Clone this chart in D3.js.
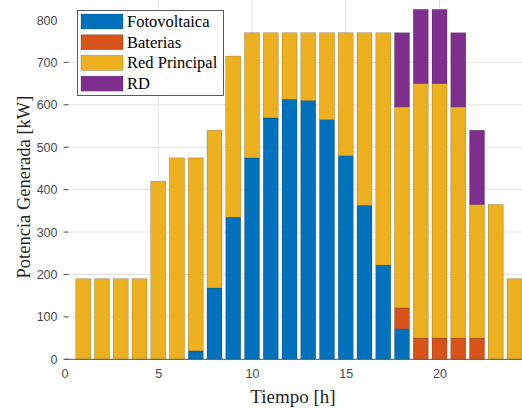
<!DOCTYPE html>
<html>
<head>
<meta charset="utf-8">
<script src="https://cdn.jsdelivr.net/npm/d3@7"></script>
<style>
html,body{margin:0;padding:0;background:#fff;overflow:hidden;}
svg{display:block;}
</style>
</head>
<body>
<svg id="chart" width="522" height="409"></svg>
<script>
const hours = [1,2,3,4,5,6,7,8,9,10,11,12,13,14,15,16,17,18,19,20,21,22,23,24];
const fotovoltaica = [0,0,0,0,0,0,20,168,335,475,569,613,610,565,480,363,222,72,0,0,0,0,0,0];
const baterias     = [0,0,0,0,0,0,0,0,0,0,0,0,0,0,0,0,0,49,50,50,50,50,0,0];
const redPrincipal = [190,190,190,190,420,475,455,372,380,295,201,157,160,205,290,407,548,474,600,600,545,315,365,190];
const rd           = [0,0,0,0,0,0,0,0,0,0,0,0,0,0,0,0,0,175,175,175,175,175,0,0];
const seriesNames = ["Fotovoltaica","Baterias","Red Principal","RD"];
const seriesColors = ["#0072BD","#D95319","#EDB120","#7E2F8E"];
const yTicks = [0,100,200,300,400,500,600,700,800];
const xTicks = [0,5,10,15,20];

const svg = d3.select("#chart");
const x = d3.scaleLinear().domain([0,24.5]).range([64.5,523.9]);
const y = d3.scaleLinear().domain([0,800]).range([359.3,20]);

// grid
const grid = svg.append("g");
grid.selectAll("line.h").data(yTicks.filter(d=>d>0 && d<800)).enter().append("line")
  .attr("x1",x(0)).attr("x2",522).attr("y1",d=>y(d)).attr("y2",d=>y(d))
  .attr("stroke","#e3e3e3").attr("stroke-width",1);
grid.selectAll("line.v").data(xTicks.filter(d=>d>0)).enter().append("line")
  .attr("x1",d=>x(d)).attr("x2",d=>x(d)).attr("y1",0).attr("y2",y(0))
  .attr("stroke","#e3e3e3").attr("stroke-width",1);

// stacked data
const table = hours.map((h,i)=>({hour:h, "Fotovoltaica":fotovoltaica[i], "Baterias":baterias[i], "Red Principal":redPrincipal[i], "RD":rd[i]}));
const stack = d3.stack().keys(seriesNames)(table);
const bw = (x(1)-x(0))*0.8;

const bars = svg.append("g");
stack.forEach((layer,k)=>{
  bars.selectAll(null).data(layer.filter(d=>d[1]-d[0]>0)).enter().append("rect")
    .attr("x",d=>x(d.data.hour)-bw/2)
    .attr("width",bw)
    .attr("y",d=>y(d[1]))
    .attr("height",d=>y(d[0])-y(d[1]))
    .attr("fill",seriesColors[k])
    .attr("stroke","rgba(0,0,0,0.3)")
    .attr("stroke-width",0.6);
});

// axes
const xAxis = d3.axisBottom(x).tickValues(xTicks).tickSize(0).tickPadding(10);
const gx = svg.append("g").attr("transform",`translate(0,${y(0)})`).call(xAxis);
gx.select(".domain").attr("d",`M${x(0)},0H522`).attr("stroke","#555").attr("stroke-width",1);
gx.selectAll("text").attr("font-family","Liberation Sans, Arial, sans-serif").attr("font-size",12.5).attr("fill","#4a4a4a");

const yAxis = d3.axisLeft(y).tickValues(yTicks).tickSize(0).tickPadding(7);
const gy = svg.append("g").attr("transform",`translate(${x(0)},0)`).call(yAxis);
gy.select(".domain").remove();
gy.selectAll("text").attr("font-family","Liberation Sans, Arial, sans-serif").attr("font-size",12.5).attr("fill","#4a4a4a");
// inner tick marks
svg.append("g").selectAll("line").data(yTicks.filter(d=>d<800)).enter().append("line")
  .attr("x1",x(0)-1).attr("x2",x(0)+4).attr("y1",d=>y(d)).attr("y2",d=>y(d))
  .attr("stroke","#555").attr("stroke-width",1);

// axis labels
svg.append("text").attr("x",293).attr("y",403).attr("text-anchor","middle")
  .attr("font-family","Liberation Serif, Times New Roman, serif").attr("font-size",19).attr("fill","#262626")
  .text("Tiempo [h]");
svg.append("text").attr("transform","translate(30,187) rotate(-90)").attr("text-anchor","middle")
  .attr("font-family","Liberation Serif, Times New Roman, serif").attr("font-size",18.5).attr("fill","#262626")
  .text("Potencia Generada [kW]");

// legend
const lg = svg.append("g");
lg.append("rect").attr("x",77.5).attr("y",10.5).attr("width",146).attr("height",85)
  .attr("fill","#fff").attr("stroke","#333").attr("stroke-width",0.8);
seriesNames.forEach((n,i)=>{
  const cy = 21.5 + i*20.7;
  lg.append("rect").attr("x",81).attr("y",cy-7.5).attr("width",42).attr("height",15)
    .attr("fill",seriesColors[i]).attr("stroke","rgba(0,0,0,0.3)").attr("stroke-width",0.6);
  lg.append("text").attr("x",127).attr("y",cy+5.5)
    .attr("font-family","Liberation Serif, Times New Roman, serif").attr("font-size",16.5).attr("fill","#000")
    .text(n);
});
</script>
</body>
</html>
